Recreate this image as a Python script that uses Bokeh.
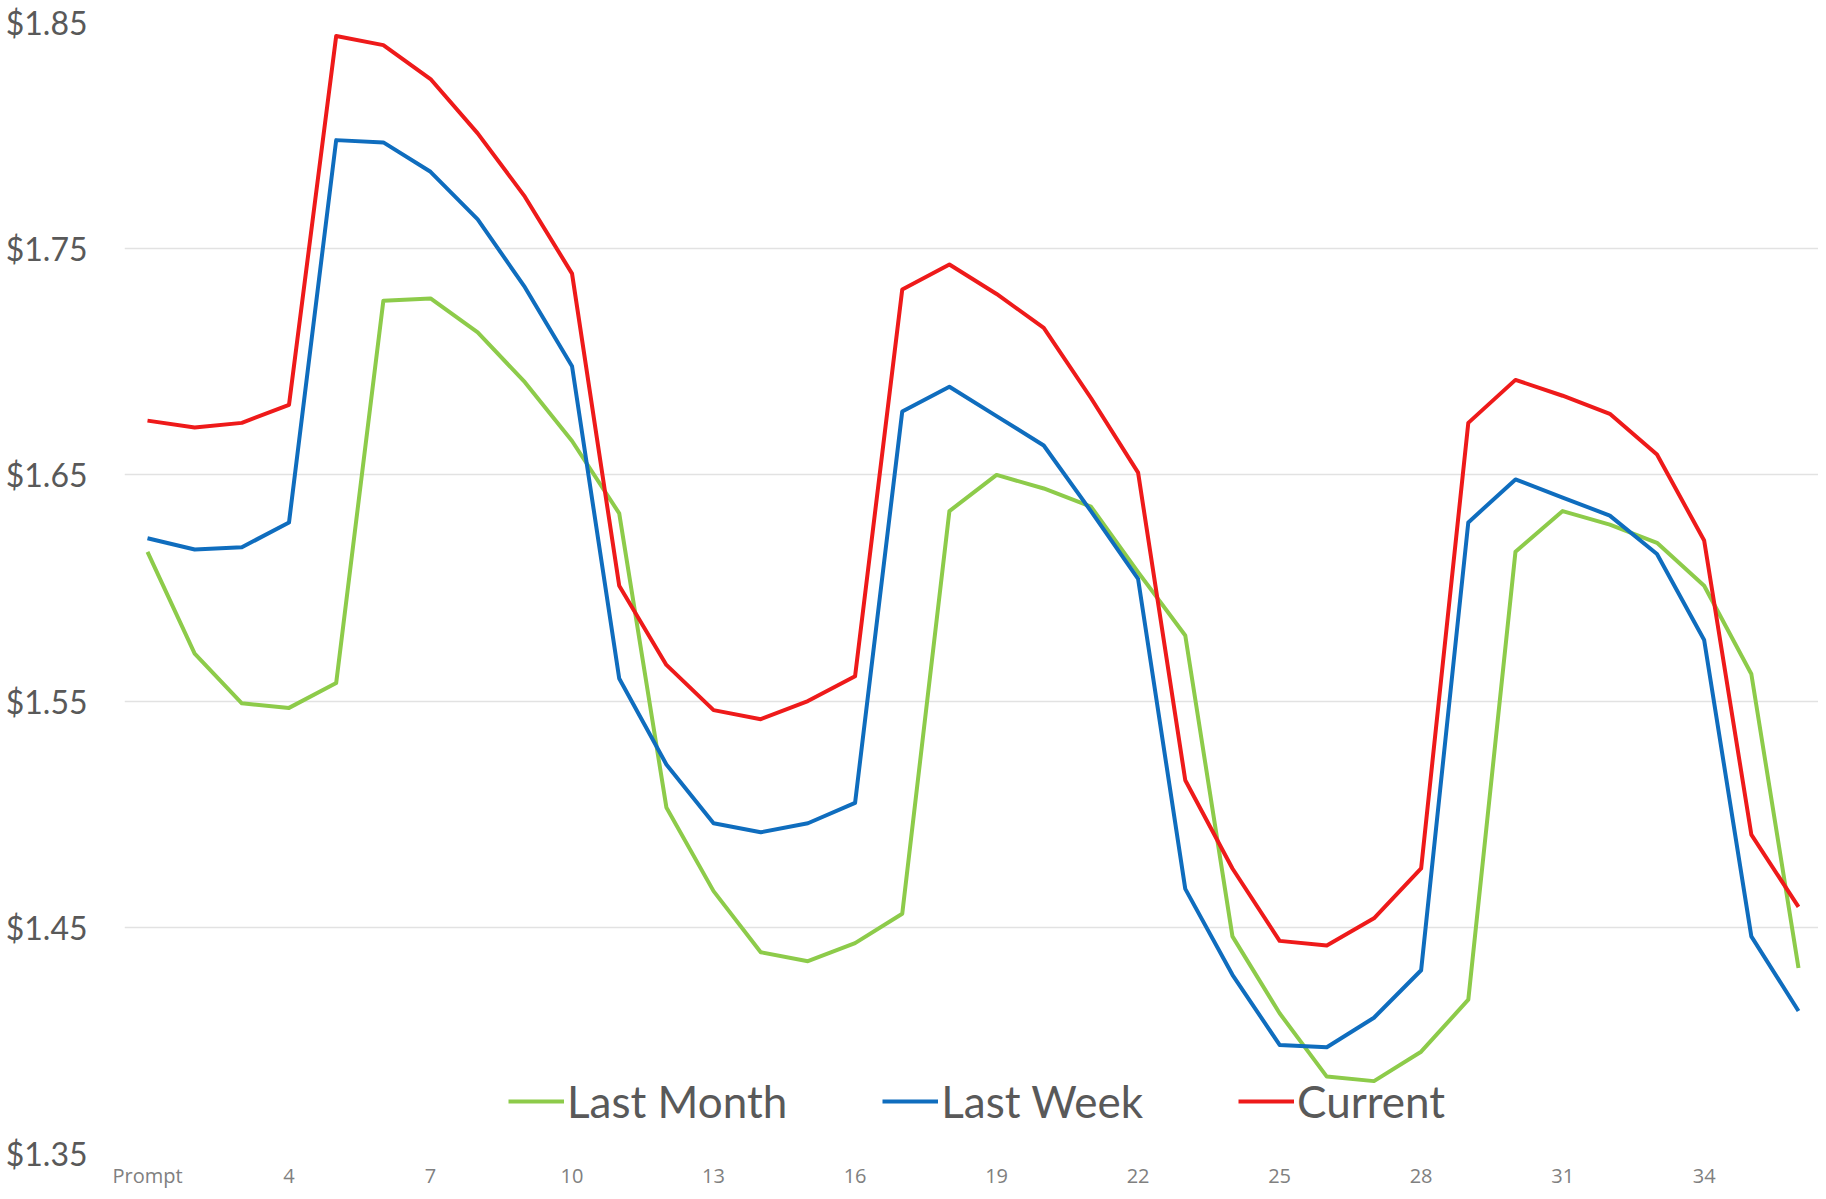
from bokeh.plotting import figure
from bokeh.models import Range1d, FixedTicker, PrintfTickFormatter, Legend, LegendItem
from bokeh.embed import file_html
from bokeh.resources import INLINE

categories = ["Prompt"] + [str(i) for i in range(2, 37)]

last_month = [1.616, 1.571, 1.549, 1.547, 1.558, 1.727, 1.728, 1.713, 1.691, 1.665,
              1.633, 1.503, 1.466, 1.439, 1.435, 1.443, 1.456, 1.634, 1.650, 1.644,
              1.636, 1.607, 1.579, 1.446, 1.412, 1.384, 1.382, 1.395, 1.418, 1.616,
              1.634, 1.628, 1.620, 1.601, 1.562, 1.432]

last_week = [1.622, 1.617, 1.618, 1.629, 1.798, 1.797, 1.784, 1.763, 1.733, 1.698,
             1.560, 1.522, 1.496, 1.492, 1.496, 1.505, 1.678, 1.689, 1.676, 1.663,
             1.634, 1.604, 1.467, 1.429, 1.398, 1.397, 1.410, 1.431, 1.629, 1.648,
             1.640, 1.632, 1.615, 1.577, 1.446, 1.413]

current = [1.674, 1.671, 1.673, 1.681, 1.844, 1.840, 1.825, 1.801, 1.773, 1.739,
           1.601, 1.566, 1.546, 1.542, 1.550, 1.561, 1.732, 1.743, 1.730, 1.715,
           1.684, 1.651, 1.515, 1.476, 1.444, 1.442, 1.454, 1.476, 1.673, 1.692,
           1.685, 1.677, 1.659, 1.621, 1.491, 1.459]

series_names = ["Last Month", "Last Week", "Current"]
series_colors = ["#8DCB4A", "#0F6DBE", "#EE1A1A"]
y_ticks = [1.35, 1.45, 1.55, 1.65, 1.75, 1.85]
x_tick_positions = list(range(0, 36, 3))

x = list(range(len(categories)))

p = figure(width=1826, height=1199, output_backend="svg", toolbar_location=None,
           x_range=Range1d(-0.4876, 35.424), y_range=Range1d(1.35, 1.85),
           min_border_left=132, min_border_right=0, min_border_top=30, min_border_bottom=0,
           margin=(-8, -8, -8, -8))
p.outline_line_color = None
p.background_fill_color = "white"
p.border_fill_color = "white"

p.xgrid.visible = False
p.ygrid.grid_line_color = "#E2E2E2"
p.ygrid.grid_line_width = 1.6

p.yaxis.ticker = FixedTicker(ticks=y_ticks)
p.yaxis.formatter = PrintfTickFormatter(format="$%.2f")
p.yaxis.axis_label = None
p.yaxis.axis_line_color = None
p.yaxis.major_tick_line_color = None
p.yaxis.minor_tick_line_color = None
p.yaxis.major_tick_out = 0
p.yaxis.major_tick_in = 0
p.yaxis.minor_tick_out = 0
p.yaxis.major_label_standoff = 37
p.yaxis.major_label_text_font = "Lato"
p.yaxis.major_label_text_font_size = "32px"
p.yaxis.major_label_text_color = "#595959"

p.xaxis.ticker = FixedTicker(ticks=x_tick_positions)
p.xaxis.major_label_overrides = {i: categories[i] for i in x_tick_positions}
p.xaxis.axis_label = None
p.xaxis.axis_line_color = None
p.xaxis.major_tick_line_color = None
p.xaxis.minor_tick_line_color = None
p.xaxis.major_tick_out = 0
p.xaxis.major_tick_in = 0
p.xaxis.minor_tick_out = 0
p.xaxis.axis_label_standoff = 0
p.xaxis.major_label_standoff = 8
p.xaxis.major_label_text_font = "Open Sans"
p.xaxis.major_label_text_font_size = "20px"
p.xaxis.major_label_text_color = "#808080"

renderers = []
for vals, color in zip([last_month, last_week, current], series_colors):
    r = p.line(x, vals, line_color=color, line_width=4, line_join="round")
    renderers.append(r)

legend = Legend(items=[LegendItem(label=n, renderers=[r]) for n, r in zip(series_names, renderers)],
                orientation="horizontal", location=(384, 26),
                glyph_width=56, glyph_height=50, label_height=50, label_standoff=3,
                spacing=95, padding=0, margin=0, border_line_color=None,
                background_fill_alpha=0,
                label_text_font="Lato", label_text_font_size="44px",
                label_text_color="#595959")
p.add_layout(legend)

open("out.html", "w").write(file_html(p, INLINE))
